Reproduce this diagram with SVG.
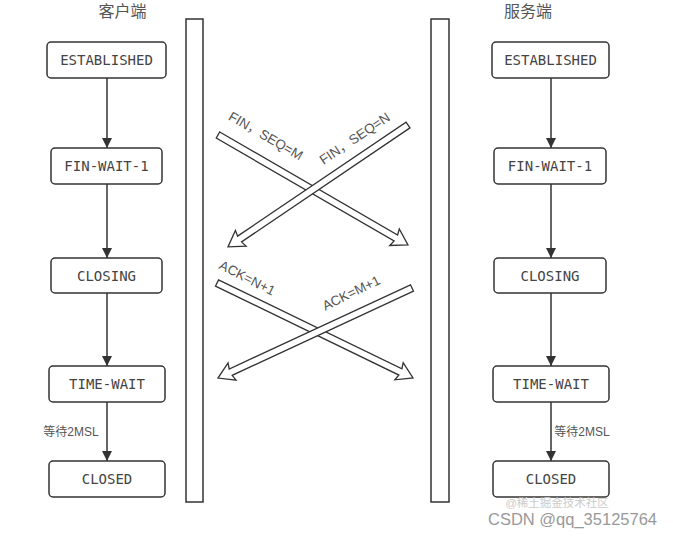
<svg xmlns="http://www.w3.org/2000/svg" width="673" height="536" viewBox="0 0 673 536">
<style>
.box{fill:#fff;stroke:#333;stroke-width:1.5}
.st{font-family:"DejaVu Sans Mono","Liberation Mono",monospace;font-size:14px;fill:#444;text-anchor:middle}
.title{font-family:"Liberation Sans","Noto Sans CJK SC",sans-serif;font-size:16px;fill:#555;text-anchor:middle}
.lbl{font-family:"Liberation Sans","Noto Sans CJK SC",sans-serif;font-size:12px;fill:#555;text-anchor:middle}
.albl{font-family:"Liberation Sans","Noto Sans CJK SC",sans-serif;font-size:13.5px;fill:#555;text-anchor:middle}
.vl{stroke:#333;stroke-width:1.5;fill:none}
.bar{fill:#fff;stroke:#333;stroke-width:1.5}
.hollow{fill:#fff;stroke:#333;stroke-width:1.3;stroke-linejoin:miter}
</style>
<defs>
<marker id="ah" markerWidth="10" markerHeight="10" refX="10" refY="5" orient="auto" markerUnits="userSpaceOnUse">
<path d="M0,0 L10,5 L0,10 z" fill="#333"/>
</marker>
</defs>
<rect width="673" height="536" fill="#fff"/>
<text class="title" x="122.5" y="17">客户端</text>
<text class="title" x="528" y="17">服务端</text>
<g id="bars">
<rect class="bar" x="186" y="19" width="17" height="483"/>
<rect class="bar" x="431" y="19" width="18" height="483"/>
</g>
<g id="connectors">
<line class="vl" x1="107" y1="78" x2="107" y2="148" marker-end="url(#ah)"/>
<line class="vl" x1="107" y1="184" x2="107" y2="258" marker-end="url(#ah)"/>
<line class="vl" x1="107" y1="293" x2="107" y2="366" marker-end="url(#ah)"/>
<line class="vl" x1="107" y1="402" x2="107" y2="461" marker-end="url(#ah)"/>
<line class="vl" x1="551" y1="78" x2="551" y2="148" marker-end="url(#ah)"/>
<line class="vl" x1="551" y1="184" x2="551" y2="258" marker-end="url(#ah)"/>
<line class="vl" x1="551" y1="293" x2="551" y2="366" marker-end="url(#ah)"/>
<line class="vl" x1="551" y1="402" x2="551" y2="461" marker-end="url(#ah)"/>
<text class="lbl" x="71" y="436">等待2MSL</text>
<text class="lbl" x="582" y="436">等待2MSL</text>
<polygon class="hollow" transform="translate(218,135) rotate(30.07)" points="0,-3.5 205.5,-3.5 204,-9.5 219.5,0 204,9.5 205.5,3.5 0,3.5"/>
<polygon class="hollow" transform="translate(408,125) rotate(145.9)" points="0,-3.5 203.4,-3.5 202,-9.5 217.4,0 202,9.5 203.4,3.5 0,3.5"/>
<polygon class="hollow" transform="translate(217,283) rotate(25.86)" points="0,-3.5 203.8,-3.5 202.3,-9.5 217.8,0 202.3,9.5 203.8,3.5 0,3.5"/>
<polygon class="hollow" transform="translate(412,288) rotate(155.1)" points="0,-3.5 199.9,-3.5 198.4,-9.5 213.9,0 198.4,9.5 199.9,3.5 0,3.5"/>
<text class="albl" transform="translate(265.5,136.5) rotate(30)" y="4">FIN，SEQ=M</text>
<text class="albl" transform="translate(355,139) rotate(-34)" y="4">FIN，SEQ=N</text>
<text class="albl" transform="translate(247,278.5) rotate(27)" y="4">ACK=N+1</text>
<text class="albl" transform="translate(351.5,293.5) rotate(-26)" y="4">ACK=M+1</text>
</g>
<g id="c-established"><rect class="box" x="47" y="42" width="119" height="36" rx="4"/><text class="st" x="106.5" y="65">ESTABLISHED</text></g>
<g id="c-finwait1"><rect class="box" x="51" y="148" width="111" height="36" rx="4"/><text class="st" x="106.5" y="171">FIN-WAIT-1</text></g>
<g id="c-closing"><rect class="box" x="51" y="258" width="111" height="35" rx="4"/><text class="st" x="106.5" y="280.5">CLOSING</text></g>
<g id="c-timewait"><rect class="box" x="49" y="366" width="116" height="36" rx="4"/><text class="st" x="107" y="389">TIME-WAIT</text></g>
<g id="c-closed"><rect class="box" x="49" y="461" width="116" height="36" rx="4"/><text class="st" x="107" y="484">CLOSED</text></g>
<g id="s-established"><rect class="box" x="492" y="42" width="117" height="36" rx="4"/><text class="st" x="550.5" y="65">ESTABLISHED</text></g>
<g id="s-finwait1"><rect class="box" x="494" y="148" width="112" height="36" rx="4"/><text class="st" x="550" y="171">FIN-WAIT-1</text></g>
<g id="s-closing"><rect class="box" x="494" y="258" width="112" height="35" rx="4"/><text class="st" x="550" y="280.5">CLOSING</text></g>
<g id="s-timewait"><rect class="box" x="493" y="366" width="116" height="36" rx="4"/><text class="st" x="551" y="389">TIME-WAIT</text></g>
<g id="s-closed"><rect class="box" x="493" y="461" width="116" height="36" rx="4"/><text class="st" x="551" y="484">CLOSED</text></g>
<text x="557" y="507" font-family="Liberation Sans,'Noto Sans CJK SC',sans-serif" font-size="11.5" fill="#ccc" text-anchor="middle">@稀土掘金技术社区</text>
<text x="572.5" y="525" font-family="Liberation Sans,'Noto Sans CJK SC',sans-serif" font-size="16.5" fill="#999" text-anchor="middle">CSDN @qq_35125764</text>
</svg>
